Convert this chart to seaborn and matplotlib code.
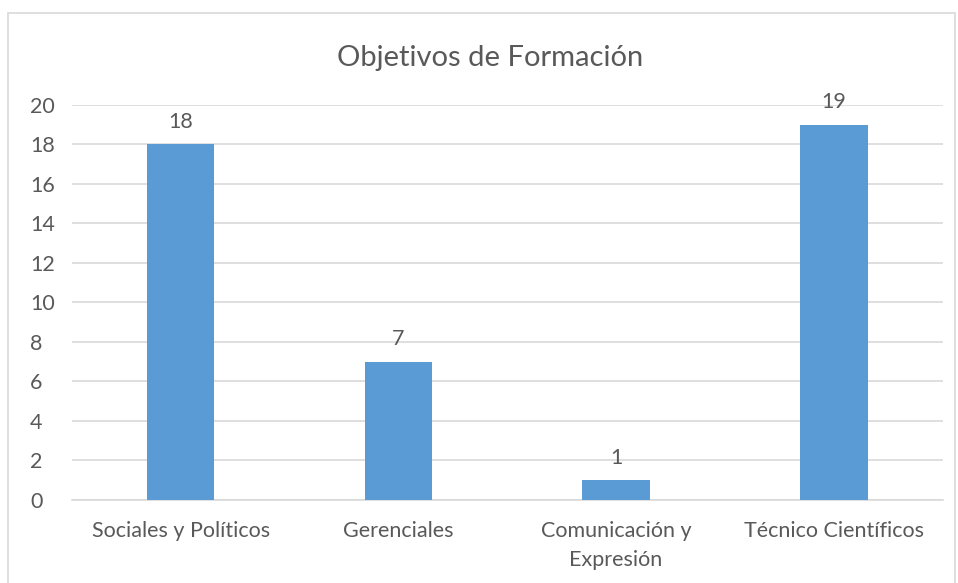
import matplotlib
matplotlib.use("Agg")
import matplotlib.pyplot as plt
import seaborn as sns
import pandas as pd
from matplotlib.patches import Rectangle

categories = ["Sociales y Políticos", "Gerenciales", "Comunicación y\nExpresión", "Técnico Científicos"]
values = [18, 7, 1, 19]
yticks = [0, 2, 4, 6, 8, 10, 12, 14, 16, 18, 20]

sns.set_theme(style="white")
plt.rcParams["font.family"] = ["Lato", "DejaVu Sans"]

text_color = "#595959"
bar_color = "#5B9BD5"
grid_color = "#D9D9D9"

df = pd.DataFrame({"categoria": categories, "valor": values})

fig = plt.figure(figsize=(9.58, 5.83), dpi=100)
ax = fig.add_axes([0.075, 0.1424, 0.909, 0.6775])

sns.barplot(data=df, x="categoria", y="valor", color=bar_color, width=0.31,
            saturation=1, linewidth=0, edgecolor="none", ax=ax, zorder=3)

ax.set_ylim(0, 20)
ax.set_xlim(-0.5, 3.5)
ax.set_yticks(yticks)
ax.yaxis.grid(True, color=grid_color, linewidth=1.2, zorder=0)
ax.set_axisbelow(True)
for s in ["top", "right", "left"]:
    ax.spines[s].set_visible(False)
ax.spines["bottom"].set_color(grid_color)
ax.spines["bottom"].set_linewidth(1.2)
ax.tick_params(axis="both", length=0, labelsize=15.5, colors=text_color)
ax.tick_params(axis="x", pad=15)
ax.tick_params(axis="y", pad=30)
for lab in ax.get_yticklabels():
    lab.set_horizontalalignment("left")
for lab in ax.get_xticklabels():
    lab.set_linespacing(1.55)
ax.set_xlabel("")
ax.set_ylabel("")

for c in ax.containers:
    ax.bar_label(c, labels=[str(v) for v in values], padding=9, fontsize=15.5, color=text_color)

fig.text(0.512, 0.9, "Objetivos de Formación", ha="center", va="center",
         fontsize=21, color=text_color)

fig.patches.append(Rectangle((8 / 958, -0.01), 947 / 958, 1 - 13 / 583 + 0.01, transform=fig.transFigure,
                             fill=False, edgecolor="#D9D9D9", linewidth=1.2))

fig.savefig("out.png", dpi=100)
